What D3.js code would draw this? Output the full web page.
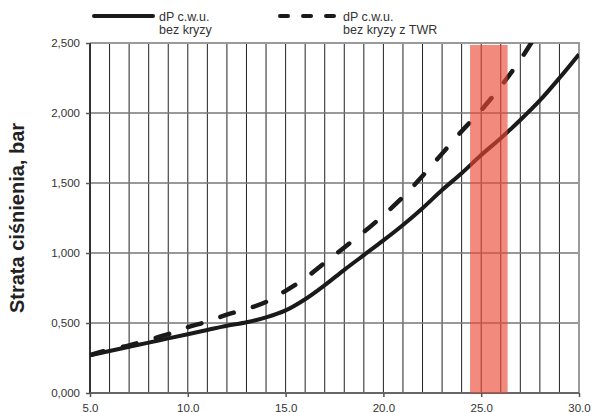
<!DOCTYPE html>
<html><head><meta charset="utf-8">
<script src="https://cdn.jsdelivr.net/npm/d3@7"></script>
<style>
html,body{margin:0;padding:0;background:#fff;}
svg{display:block;font-family:"Liberation Sans",Arial,sans-serif;}
</style></head>
<body><svg id="c" width="594" height="412"></svg>
<script>
const xVals = [5,6,7,8,9,10,11,12,13,14,15,16,17,18,19,20,21,22,23,24,25,26,27,28,29,30];
const solidVals = [0.27,0.30,0.33,0.36,0.39,0.42,0.45,0.48,0.505,0.54,0.59,0.67,0.77,0.88,0.985,1.09,1.20,1.32,1.45,1.57,1.70,1.82,1.95,2.09,2.25,2.42];
const dashX = [5,6,7,8,9,10,11,12,13,14,15,16,17,18,19,20,21,22,23,24,25,26,27,28];
const dashVals = [0.27,0.31,0.34,0.38,0.42,0.47,0.51,0.56,0.60,0.65,0.73,0.82,0.93,1.04,1.15,1.27,1.40,1.55,1.71,1.87,2.02,2.19,2.38,2.60];
const band = [24.43, 26.35];
const bandTop = 2.486;
const xTicks = [5,10,15,20,25,30];
const yTicks = [0,0.5,1,1.5,2,2.5];
const seriesNames = [["dP c.w.u.","bez kryzy"],["dP c.w.u.","bez kryzy z TWR"]];
const yTitle = "Strata ciśnienia, bar";

const svg = d3.select("#c");
const L=90,R=579,T=43,B=393;
const x = d3.scaleLinear().domain([5,30]).range([L,R]);
const y = d3.scaleLinear().domain([0,2.5]).range([B,T]);

// vertical grid
svg.append("g").selectAll("line").data(d3.range(6,30)).join("line")
  .attr("x1",d=>x(d)).attr("x2",d=>x(d)).attr("y1",T).attr("y2",B)
  .attr("stroke","#222").attr("stroke-width",1);
// horizontal grid
svg.append("g").selectAll("line").data(yTicks.slice(1,-1)).join("line")
  .attr("x1",L).attr("x2",R).attr("y1",d=>y(d)).attr("y2",d=>y(d))
  .attr("stroke","#777").attr("stroke-width",1.5);
// top & right border
svg.append("path").attr("d",`M${L},${T}H${R}V${B}`).attr("fill","none")
  .attr("stroke","#9a9a9a").attr("stroke-width",2);

// axes
const fmtY = d=>d3.format(".3f")(d).replace(".",",");
const fmtX = d=>d3.format(".1f")(d);
const yAxis = svg.append("g").attr("transform",`translate(${L},0)`)
  .call(d3.axisLeft(y).tickValues(yTicks).tickFormat(fmtY).tickSize(4).tickPadding(6));
const xAxis = svg.append("g").attr("transform",`translate(0,${B})`)
  .call(d3.axisBottom(x).tickValues(xTicks).tickFormat(fmtX).tickSize(4).tickPadding(7));
[yAxis,xAxis].forEach(g=>{
  g.selectAll("text").attr("font-size",11.5).attr("fill","#333").attr("font-family","'Liberation Sans',Arial,sans-serif");
  g.selectAll(".tick line").attr("stroke","#555").attr("stroke-width",1.5);
});
yAxis.select(".domain").attr("stroke","#333").attr("stroke-width",2).attr("d",`M0,${T}V${B}`);
xAxis.select(".domain").attr("stroke","#666").attr("stroke-width",2).attr("d",`M${L},0H${R}`);

// clip
svg.append("clipPath").attr("id","clip").append("rect")
  .attr("x",L).attr("y",T).attr("width",R-L).attr("height",B-T);

const line = d3.line().x(d=>x(d[0])).y(d=>y(d[1])).curve(d3.curveCatmullRom);
const g = svg.append("g").attr("clip-path","url(#clip)");
g.append("path").attr("d",line(xVals.map((v,i)=>[v,solidVals[i]])))
  .attr("fill","none").attr("stroke","#1a1a1a").attr("stroke-width",4);
g.append("path").attr("d",line(dashX.map((v,i)=>[v,dashVals[i]])))
  .attr("fill","none").attr("stroke","#1a1a1a").attr("stroke-width",4.5)
  .attr("stroke-dasharray","14,20").attr("stroke-linecap","round");

// band
svg.append("rect").attr("x",x(band[0])).attr("width",x(band[1])-x(band[0]))
  .attr("y",y(bandTop)).attr("height",y(0)-y(bandTop))
  .attr("fill","rgb(234,74,53)").attr("fill-opacity",0.64);

// legend
const leg = svg.append("g");
leg.append("line").attr("x1",94).attr("x2",153).attr("y1",16).attr("y2",16)
  .attr("stroke","#1a1a1a").attr("stroke-width",4).attr("stroke-linecap","round");
leg.append("line").attr("x1",280).attr("x2",338).attr("y1",16).attr("y2",16)
  .attr("stroke","#1a1a1a").attr("stroke-width",4).attr("stroke-linecap","round")
  .attr("stroke-dasharray","8,15");
[[159,seriesNames[0]],[343,seriesNames[1]]].forEach(([lx,lines])=>{
  lines.forEach((t,i)=>{
    leg.append("text").attr("x",lx).attr("y",21+i*13).text(t)
      .attr("font-size",12.5).attr("fill","#333");
  });
});

// y title
svg.append("text").attr("transform",`translate(24,${(T+B)/2}) rotate(-90)`)
  .attr("text-anchor","middle").attr("font-size",20).attr("font-weight","bold")
  .attr("fill","#222").text(yTitle);
</script></body></html>
